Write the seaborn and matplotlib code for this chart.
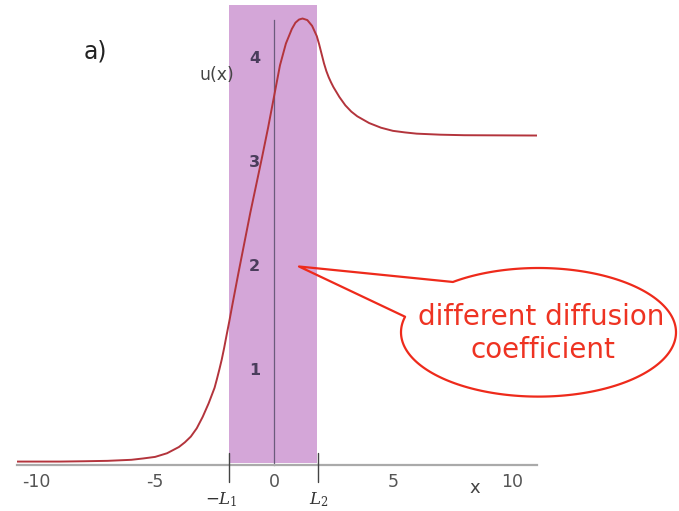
import numpy as np
import matplotlib
matplotlib.use("Agg")
import matplotlib.pyplot as plt
from matplotlib.path import Path
from matplotlib.patches import PathPatch
import seaborn as sns
import pandas as pd

# ---- data ----
x_vals = [-10.8, -9, -8, -7, -6, -5.5, -5, -4.5, -4, -3.75, -3.5, -3.25, -3, -2.75,
          -2.5, -2.4, -2.3, -2.2, -2.1, -2.0, -1.88, -1.75, -1.5, -1.25, -1, -0.75,
          -0.5, -0.25, 0, 0.25, 0.5, 0.75, 0.9, 1.05, 1.2, 1.4, 1.6, 1.8, 1.9, 2.0,
          2.1, 2.2, 2.3, 2.4, 2.5, 2.75, 3.0, 3.25, 3.5, 4.0, 4.5, 5.0, 5.5, 6, 7,
          8, 11.06]
u_vals = [0.11, 0.11, 0.113, 0.117, 0.127, 0.14, 0.155, 0.19, 0.25, 0.295, 0.35,
          0.43, 0.54, 0.67, 0.82, 0.905, 0.995, 1.09, 1.20, 1.32, 1.46, 1.62, 1.92,
          2.21, 2.50, 2.77, 3.04, 3.32, 3.62, 3.92, 4.13, 4.27, 4.33, 4.36, 4.37,
          4.355, 4.30, 4.20, 4.12, 4.03, 3.94, 3.865, 3.805, 3.755, 3.71, 3.615,
          3.535, 3.475, 3.43, 3.365, 3.32, 3.29, 3.275, 3.263, 3.253, 3.248, 3.245]
x_ticks = [-10, -5, 0, 5, 10]
x_minor = list(range(-10, 11))
y_ticks = [1, 2, 3, 4]
y_minor = [0.5, 1.5, 2.5, 3.5]
region = [-1.88, 1.80]          # shaded region with different diffusion coefficient
L_marks = [-1.88, 1.86]
L_labels = [r"$-L_1$", r"$L_2$"]
panel_label = "a)"
callout_lines = ["different diffusion", "coefficient"]

sns.set_style("white")
plt.rcParams["font.family"] = ["DejaVu Sans"]
plt.rcParams["axes.unicode_minus"] = False

W, H = 679, 511
fig = plt.figure(figsize=(W / 100, H / 100), dpi=100)
ax = fig.add_axes([17 / W, 1 - 465 / H, 520 / W, 460 / H])
ax.set_facecolor("none")

ax.axvspan(region[0], region[1], ymin=0.005, ymax=1.0, color="#d4a6d8", lw=0, zorder=0)

df = pd.DataFrame({"x": x_vals, "u": u_vals})
sns.lineplot(data=df, x="x", y="u", ax=ax, color="#b3343c", lw=1.4,
             sort=False, estimator=None, zorder=3)
for ln in ax.lines:
    ln.set_solid_joinstyle("round")

ax.set_xlim(-10.81, 11.06)
ax.set_ylim(0.077, 4.50)
ax.set_xlabel("")
ax.set_ylabel("")

for s in ["top", "right"]:
    ax.spines[s].set_visible(False)
ax.spines["left"].set_position(("data", 0))
ax.spines["left"].set_bounds(0.077, 4.36)
ax.spines["left"].set_color("#6b5b7b")
ax.spines["left"].set_linewidth(0.9)
ax.spines["left"].set_zorder(2)
ax.spines["bottom"].set_color("#aaaaaa")
ax.spines["bottom"].set_linewidth(1.6)

ax.set_xticks(x_ticks)
ax.set_xticklabels([str(t) for t in x_ticks])
ax.set_xticks(x_minor, minor=True)
ax.tick_params(axis="x", which="major", direction="out", length=4, width=1,
               color="#888888", labelsize=12.5, labelcolor="#555555", pad=2)
ax.tick_params(axis="x", which="minor", direction="out", length=2, width=1,
               color="#888888")
ax.set_yticks(y_ticks)
ax.set_yticklabels([str(t) for t in y_ticks])
ax.set_yticks(y_minor, minor=True)
ax.tick_params(axis="y", which="major", direction="out", length=6, width=0.9,
               color="#6b5b7b", labelsize=11.5, labelcolor="#4a3d5c", pad=4)
ax.tick_params(axis="y", which="minor", direction="out", length=3, width=0.9,
               color="#6b5b7b")
for lab in ax.get_yticklabels():
    lab.set_fontweight("bold")

# -L1 and L2 marks
offsets = [-7.6, 0.7]
for xv, lab, dx in zip(L_marks, L_labels, offsets):
    ax.plot([xv, xv], [0.026, -0.037], transform=ax.get_xaxis_transform(),
            color="#444444", lw=1.0, clip_on=False, zorder=4)
    ax.annotate(lab, xy=(xv, 0), xycoords=ax.get_xaxis_transform(),
                xytext=(dx, -35), textcoords="offset pixels", ha="center",
                va="center", fontsize=12, color="#333333",
                math_fontfamily="dejavuserif")

# axis labels and panel label
fig.text(216.7 / W, 1 - 75 / H, "u(x)", ha="center", va="center",
         fontsize=12.5, color="#444444")
fig.text(475 / W, 1 - 488 / H, "x", ha="center", va="center",
         fontsize=13, color="#444444")
fig.text(95 / W, 1 - 52 / H, panel_label, ha="center", va="center",
         fontsize=17, color="#222222")

# speech bubble
cx, cy, a, b = 538.5, 332.3, 137.5, 64.3
t = np.radians(np.linspace(-128.5, 194, 200))
px = cx + a * np.cos(t)
py = cy + b * np.sin(t)
verts = list(zip(px, py)) + [(299, 266.5), (px[0], py[0])]
verts = [(vx / W, 1 - vy / H) for vx, vy in verts]
codes = [Path.MOVETO] + [Path.LINETO] * (len(verts) - 2) + [Path.CLOSEPOLY]
bubble = PathPatch(Path(verts, codes), transform=fig.transFigure, fill=False,
                   edgecolor="#ee2a1b", lw=1.6, zorder=10, joinstyle="round")
fig.patches.append(bubble)

fig.text(541 / W, 1 - 325 / H, callout_lines[0], ha="center", va="baseline",
         fontsize=20, color="#ee3322")
fig.text(543 / W, 1 - 358.3 / H, callout_lines[1], ha="center", va="baseline",
         fontsize=20, color="#ee3322")

fig.savefig("out.png", dpi=100)
